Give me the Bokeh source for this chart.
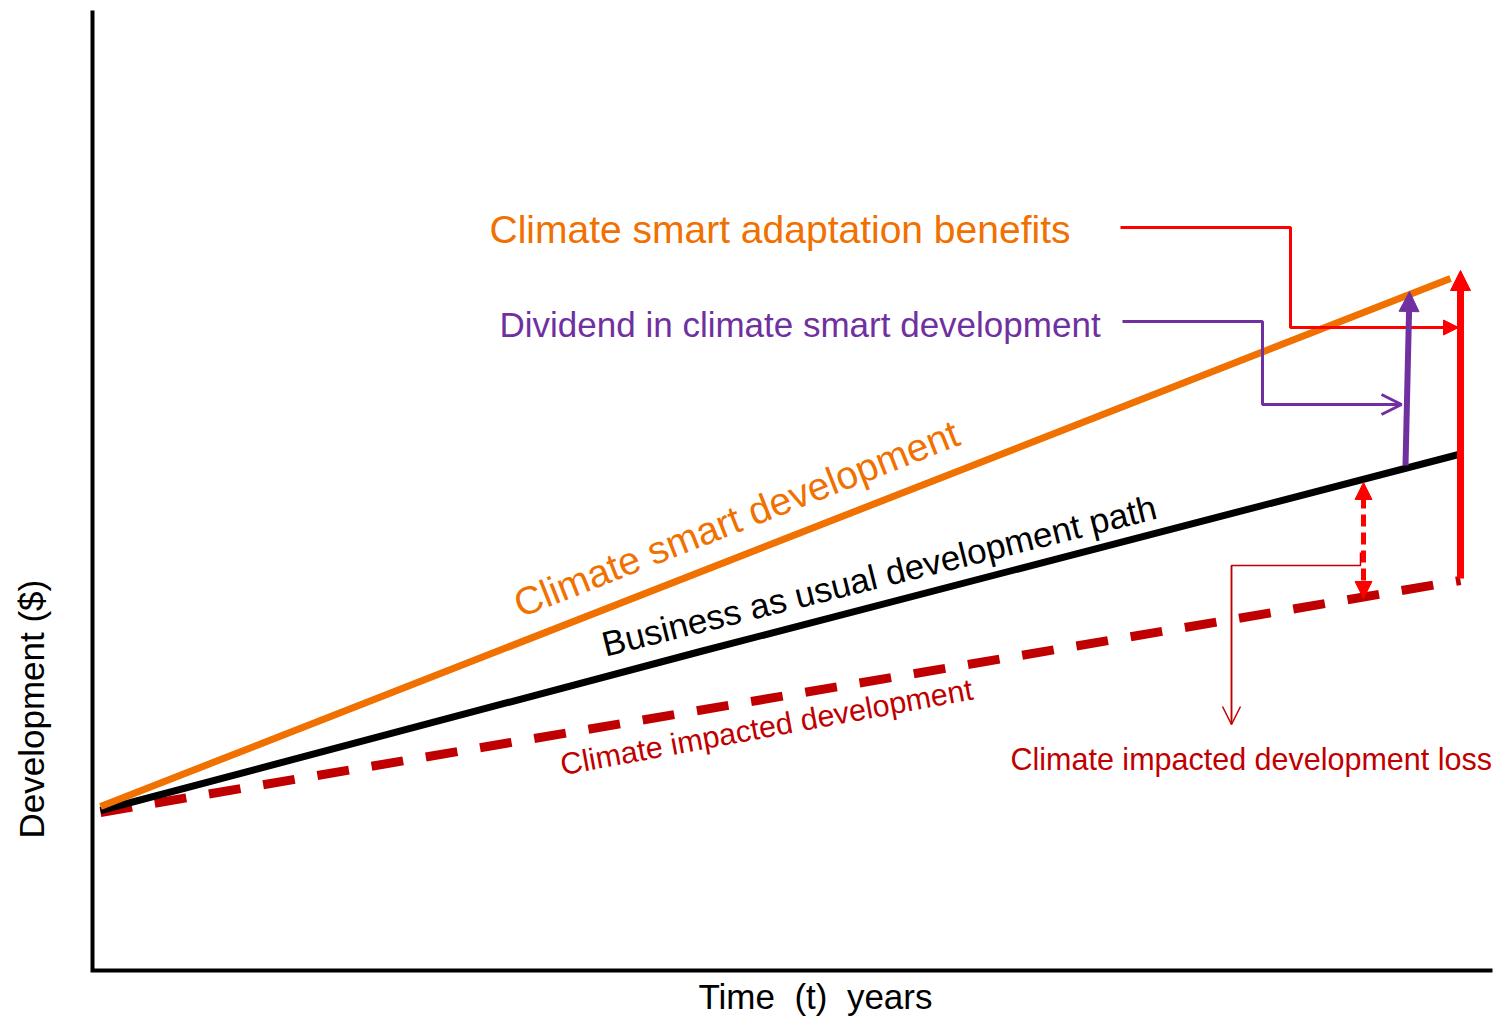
import numpy as np
from bokeh.plotting import figure
from bokeh.models import Range1d, Arrow, NormalHead, OpenHead
from bokeh.core.properties import value
from bokeh.embed import file_html
from bokeh.resources import INLINE

# ---- data (time in years, development in $ units) ----
time_smart = [0.08, 13.58]
dev_smart = [1.64, 6.92]
time_bau = [0.08, 6.08, 13.70]
dev_bau = [1.60, 3.19, 5.17]
time_impacted = [0.08, 13.68]
dev_impacted = [1.58, 3.90]

# axis frame (origin corner)
axis_x = [0.0, 0.0, 14.0]
axis_y = [9.60, 0.0, 0.0]

# gap arrows
benefit_t = [13.68, 13.68]
benefit_dev = [3.92, 7.00]
dividend_t = [13.13, 13.17]
dividend_dev = [5.05, 6.79]
loss_t = [12.71, 12.71]
loss_dev = [3.72, 4.88]

# callout leaders
benefit_leader_t = [10.28, 11.98, 11.98, 13.66]
benefit_leader_dev = [7.43, 7.43, 6.43, 6.43]
dividend_leader_t = [10.30, 11.70, 11.70, 13.09]
dividend_leader_dev = [6.49, 6.49, 5.66, 5.66]
loss_leader_t = [12.68, 12.68, 11.39, 11.39]
loss_leader_dev = [4.18, 4.05, 4.05, 2.46]

# labels
label_texts = ["Climate smart adaptation benefits",
               "Dividend in climate smart development",
               "Climate impacted development loss",
               "Development ($)",
               "Time\u00a0\u00a0(t)\u00a0\u00a0years",
               "Climate smart development",
               "Business as usual development path",
               "Climate impacted development"]
label_t = [3.97, 4.07, 9.18, -0.61, 6.06, 4.23, 5.10, 4.68]
label_dev = [7.41, 6.46, 2.12, 1.32, -0.26, 3.65, 3.26, 2.06]
label_angle = [0, 0, 0, np.pi / 2, 0, 0.375, 0.245, 0.183]

ORANGE = "#F07000"
PURPLE = "#7030A0"
DARKRED = "#C00000"
RED = "#FF0000"
FONT = "Liberation Sans"

label_style = [
    ("39px", ORANGE),
    ("35px", PURPLE),
    ("30.5px", DARKRED),
    ("35px", "black"),
    ("35px", "black"),
    ("39px", ORANGE),
    ("35px", "black"),
    ("30.5px", DARKRED),
]

p = figure(width=1496, height=1020, output_backend="svg", toolbar_location=None,
           x_range=Range1d(-0.92, 14.04), y_range=Range1d(-0.50, 9.70),
           x_axis_location=None, y_axis_location=None, min_border=0)
p.outline_line_color = None
p.background_fill_color = "white"
p.border_fill_color = "white"
p.xgrid.visible = False
p.ygrid.visible = False

# axes
p.line(axis_x, axis_y, line_color="black", line_width=4, line_join="miter")

# series
p.line(time_impacted, dev_impacted, line_color=DARKRED, line_width=9, line_dash="32 23")
p.line(time_bau, dev_bau, line_color="black", line_width=7)
p.line(time_smart, dev_smart, line_color=ORANGE, line_width=7)

# leaders
p.line(benefit_leader_t, benefit_leader_dev, line_color=RED, line_width=3)
p.line(dividend_leader_t, dividend_leader_dev, line_color=PURPLE, line_width=3)
p.line(loss_leader_t, loss_leader_dev, line_color=DARKRED, line_width=1.5)

p.add_layout(Arrow(x_start=benefit_leader_t[2], y_start=benefit_leader_dev[2],
                   x_end=benefit_leader_t[3], y_end=benefit_leader_dev[3],
                   line_color=RED, line_width=3,
                   end=NormalHead(size=15, fill_color=RED, line_color=RED, line_width=1)))
p.add_layout(Arrow(x_start=dividend_leader_t[2], y_start=dividend_leader_dev[2],
                   x_end=dividend_leader_t[3], y_end=dividend_leader_dev[3],
                   line_color=PURPLE, line_width=3,
                   end=OpenHead(size=20, line_color=PURPLE, line_width=3)))
p.add_layout(Arrow(x_start=loss_leader_t[2], y_start=loss_leader_dev[2],
                   x_end=loss_leader_t[3], y_end=loss_leader_dev[3],
                   line_color=DARKRED, line_width=1.5,
                   end=OpenHead(size=18, line_color=DARKRED, line_width=1.5)))

# gap arrows
p.add_layout(Arrow(x_start=dividend_t[0], y_start=dividend_dev[0],
                   x_end=dividend_t[1], y_end=dividend_dev[1],
                   line_color=PURPLE, line_width=6,
                   end=NormalHead(size=20, fill_color=PURPLE, line_color=PURPLE, line_width=1)))
p.add_layout(Arrow(x_start=benefit_t[0], y_start=benefit_dev[0],
                   x_end=benefit_t[1], y_end=benefit_dev[1],
                   line_color=RED, line_width=7,
                   end=NormalHead(size=20, fill_color=RED, line_color=RED, line_width=1)))
p.add_layout(Arrow(x_start=loss_t[0], y_start=loss_dev[0],
                   x_end=loss_t[1], y_end=loss_dev[1],
                   line_color=RED, line_width=5, line_dash="12 6",
                   start=NormalHead(size=17, fill_color=RED, line_color=RED, line_width=1),
                   end=NormalHead(size=17, fill_color=RED, line_color=RED, line_width=1)))

# texts
for txt, tx, ty, ang, (size, color) in zip(label_texts, label_t, label_dev,
                                            label_angle, label_style):
    p.text(x=[tx], y=[ty], text=[txt], angle=ang, text_font=value(FONT),
           text_font_size=value(size), text_color=color,
           text_align="left", text_baseline="alphabetic")

open("out.html", "w").write(file_html(p, INLINE))
